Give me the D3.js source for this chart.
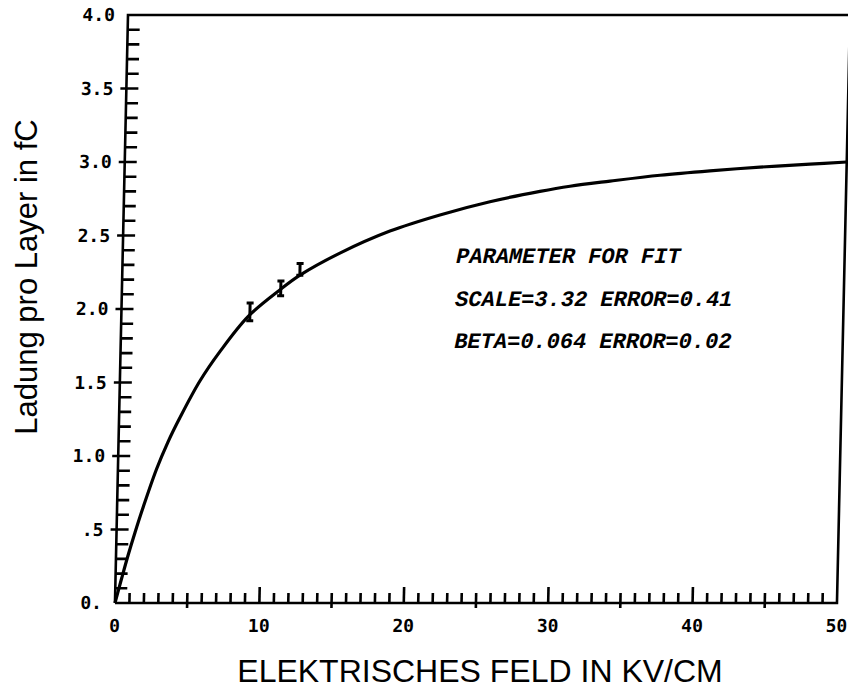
<!DOCTYPE html>
<html>
<head>
<meta charset="utf-8">
<script src="https://cdn.jsdelivr.net/npm/d3@7"></script>
<style>
  body { margin: 0; background: #fff; }
  svg { display: block; }
</style>
</head>
<body>
<div id="vis"></div>
<script>
// values
var fitField  = [0, 0.43, 0.85, 1.28, 1.8, 2.67, 3.4, 4.21, 5.54, 6.88, 8.79, 10.94, 12.31, 15.04, 18.47, 21.91, 25.35, 28.8, 30.87, 33.64, 37.09, 40.54, 44.0, 47.46, 50];
var fitCharge = [0, 0.17, 0.33, 0.48, 0.65, 0.91, 1.09, 1.26, 1.51, 1.71, 1.95, 2.13, 2.23, 2.38, 2.53, 2.64, 2.73, 2.80, 2.835, 2.87, 2.91, 2.94, 2.965, 2.985, 3.0];

var measField  = [8.9, 11.0, 12.3];
var measCharge = [1.98, 2.14, 2.27];
var measError  = [0.06, 0.05, 0.04];

var xTicks = [0, 10, 20, 30, 40, 50];
var yTicks = [0, 0.5, 1.0, 1.5, 2.0, 2.5, 3.0, 3.5, 4.0];
var yTickLabels = ["0.", ".5", "1.0", "1.5", "2.0", "2.5", "3.0", "3.5", "4.0"];

var fitText = ["PARAMETER FOR FIT", "SCALE=3.32 ERROR=0.41", "BETA=0.064 ERROR=0.02"];

var margin = {top: 15, left: 128};
var width = 722, height = 588;

var svg = d3.select("#vis").append("svg")
  .attr("width", 848)
  .attr("height", 688);

// scan is slightly sheared, so the whole frame leans a bit
var g = svg.append("g")
  .attr("transform", "translate(" + margin.left + "," + margin.top + ") skewX(-1.27)");

var x = d3.scaleLinear().domain([0, 50]).range([0, width]);
var y = d3.scaleLinear().domain([0, 4]).range([height, 0]);

var ink = "#000";
var tickFont = "'DejaVu Sans Mono', monospace";

// frame
g.append("path")
  .attr("d", "M0," + y(0) + "V" + y(4) + "H" + x(50) + "V" + y(0) + "H0")
  .attr("fill", "none")
  .attr("stroke", ink)
  .attr("stroke-width", 2.6);

// x ticks: minor every 1, crossing at 5s, tall at 10s
var xMinor = d3.range(1, 50);
g.append("g").selectAll("line")
  .data(xMinor)
  .enter().append("line")
  .attr("x1", function(d) { return x(d); })
  .attr("x2", function(d) { return x(d); })
  .attr("y1", function(d) { return d % 5 === 0 && d % 10 !== 0 ? height + 5 : height; })
  .attr("y2", function(d) { return d % 10 === 0 ? height - 16 : height - 10; })
  .attr("stroke", ink)
  .attr("stroke-width", 2.6);

g.append("g").selectAll("text")
  .data(xTicks)
  .enter().append("text")
  .attr("x", function(d) { return x(d); })
  .attr("y", height + 29)
  .attr("text-anchor", "middle")
  .attr("font-family", tickFont)
  .attr("font-weight", "bold")
  .attr("font-size", 18)
  .text(function(d) { return d; });

// y ticks: minor every 0.1 inward, majors cross the axis
var yMinor = d3.range(1, 40).map(function(i) { return i / 10; });
g.append("g").selectAll("line")
  .data(yMinor)
  .enter().append("line")
  .attr("x1", function(d, i) { return (i + 1) % 5 === 0 ? -6 : 0; })
  .attr("x2", 12)
  .attr("y1", function(d) { return y(d); })
  .attr("y2", function(d) { return y(d); })
  .attr("stroke", ink)
  .attr("stroke-width", 2.6);

g.append("g").selectAll("text")
  .data(yTicks)
  .enter().append("text")
  .attr("x", -13)
  .attr("y", function(d) { return y(d); })
  .attr("dy", "0.36em")
  .attr("text-anchor", "end")
  .attr("font-family", tickFont)
  .attr("font-weight", "bold")
  .attr("font-size", 18)
  .text(function(d, i) { return yTickLabels[i]; });

// fit curve
var fitData = fitField.map(function(d, i) { return {e: d, q: fitCharge[i]}; });
var line = d3.line()
  .x(function(d) { return x(d.e); })
  .y(function(d) { return y(d.q); })
  .curve(d3.curveCatmullRom.alpha(0.5));

g.append("path")
  .datum(fitData)
  .attr("d", line)
  .attr("fill", "none")
  .attr("stroke", ink)
  .attr("stroke-width", 3.2);

// measured points with error bars
var meas = measField.map(function(d, i) { return {e: d, q: measCharge[i], err: measError[i]}; });
var bars = g.append("g").selectAll("g")
  .data(meas)
  .enter().append("g")
  .attr("stroke", ink)
  .attr("stroke-width", 3);

bars.append("line")
  .attr("x1", function(d) { return x(d.e); })
  .attr("x2", function(d) { return x(d.e); })
  .attr("y1", function(d) { return y(d.q - d.err); })
  .attr("y2", function(d) { return y(d.q + d.err); });

[-1, 1].forEach(function(s) {
  bars.append("line")
    .attr("x1", function(d) { return x(d.e) - 3.5; })
    .attr("x2", function(d) { return x(d.e) + 3.5; })
    .attr("y1", function(d) { return y(d.q + s * d.err); })
    .attr("y2", function(d) { return y(d.q + s * d.err); });
});

// fit parameters
g.append("g").selectAll("text")
  .data(fitText)
  .enter().append("text")
  .attr("x", x(23.1))
  .attr("y", function(d, i) { return y(2.31) + i * 42.5; })
  .attr("font-family", "'Liberation Mono', monospace")
  .attr("font-style", "italic")
  .attr("font-weight", "bold")
  .attr("font-size", 22)
  .attr("fill", ink)
  .text(function(d) { return d; });

// axis titles
svg.append("text")
  .attr("transform", "translate(37,277) rotate(-90)")
  .attr("text-anchor", "middle")
  .attr("font-family", "'Liberation Sans', Arial, sans-serif")
  .attr("font-size", 31)
  .attr("fill", ink)
  .text("Ladung pro Layer in fC");

svg.append("text")
  .attr("x", 480)
  .attr("y", 682)
  .attr("text-anchor", "middle")
  .attr("font-family", "'Liberation Sans', Arial, sans-serif")
  .attr("font-size", 32)
  .attr("fill", ink)
  .text("ELEKTRISCHES FELD IN KV/CM");
</script>
</body>
</html>
